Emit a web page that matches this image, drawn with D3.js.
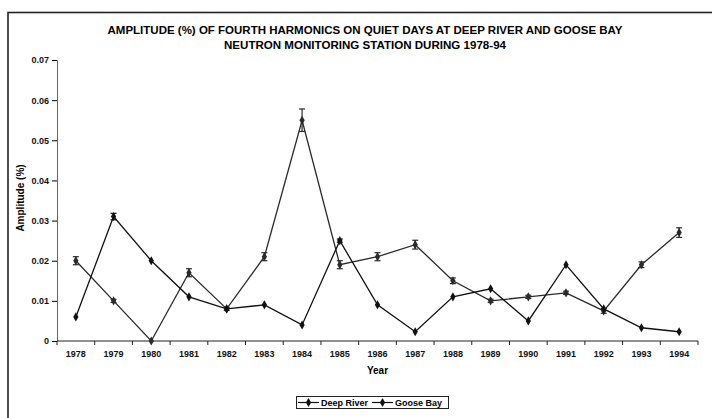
<!DOCTYPE html>
<html>
<head>
<meta charset="utf-8">
<script src="https://cdn.jsdelivr.net/npm/d3@7"></script>
<style>
  body { margin: 0; background: #fff; }
  svg { display: block; font-family: "Liberation Sans", Arial, sans-serif; }
</style>
</head>
<body>
<svg id="chart" width="712" height="418"></svg>
<script>
// amplitude (%) of fourth harmonics, quiet days
var years = ["1978","1979","1980","1981","1982","1983","1984","1985","1986",
             "1987","1988","1989","1990","1991","1992","1993","1994"];
var deepRiver = [0.006, 0.031, 0.020, 0.011, 0.008, 0.009, 0.004, 0.025, 0.009,
                 0.0023, 0.011, 0.013, 0.005, 0.019, 0.008, 0.0033, 0.0023];
var gooseBay = [0.020, 0.010, 0.000, 0.017, 0.008, 0.021, 0.055, 0.019, 0.021,
                0.024, 0.015, 0.010, 0.011, 0.012, 0.0075, 0.019, 0.027];
var gooseErr = [0.001, 0.0004, 0, 0.001, 0.0004, 0.001, 0.0028, 0.001, 0.001,
                0.0011, 0.0007, 0.0004, 0.0004, 0.0004, 0.0006, 0.0007, 0.0012];
var deepErr = [0, 0.0008, 0, 0, 0, 0, 0, 0.0004, 0, 0, 0, 0, 0, 0, 0, 0, 0];
var yTicks = [0, 0.01, 0.02, 0.03, 0.04, 0.05, 0.06, 0.07];
var seriesNames = ["Deep River", "Goose Bay"];
var titleLines = ["AMPLITUDE (%) OF FOURTH HARMONICS ON QUIET DAYS AT DEEP RIVER AND GOOSE BAY",
                  "NEUTRON MONITORING STATION DURING 1978-94"];

var svg = d3.select("#chart");
var margin = {left: 57, right: 14, top: 60, bottom: 77};
var width = 712 - margin.left - margin.right,
    height = 418 - margin.top - margin.bottom;

// frame of the scanned chart (only left and top edges are visible)
svg.append("rect")
    .attr("x", 8).attr("y", 12.5)
    .attr("width", 760).attr("height", 460)
    .attr("fill", "none").attr("stroke", "#222").attr("stroke-width", 1.6);

svg.selectAll("text.title")
  .data(titleLines)
  .enter().append("text")
    .attr("class", "title")
    .attr("x", 365)
    .attr("y", function(d, i) { return 34 + i * 14.5; })
    .attr("text-anchor", "middle")
    .attr("font-size", 11).attr("font-weight", "bold")
    .attr("textLength", function(d, i) { return i == 0 ? 515 : 282; })
    .attr("lengthAdjust", "spacingAndGlyphs")
    .text(function(d) { return d; });

var g = svg.append("g").attr("transform", "translate(" + margin.left + "," + margin.top + ")");

var x = d3.scaleBand().domain(years).range([0, width]);
var y = d3.scaleLinear().domain([0, 0.07]).range([height, 0]);

// y axis
var yAxis = g.append("g")
    .call(d3.axisLeft(y).tickValues(yTicks).tickSize(5).tickPadding(3)
      .tickFormat(function(d) { return d === 0 ? "0" : d3.format(".2f")(d); }));
yAxis.select(".domain").attr("stroke", "#666");
yAxis.selectAll("text").attr("font-size", 9).attr("font-weight", "bold")
    .attr("font-family", "Liberation Sans, Arial, sans-serif").attr("fill", "#111");

// x axis, ticks between categories
var xAxis = g.append("g").attr("transform", "translate(0," + height + ")");
xAxis.append("line")
    .attr("x1", 0).attr("x2", width)
    .attr("stroke", "#222").attr("stroke-width", 1);
xAxis.selectAll("line.tick")
  .data(years.concat(["end"]))
  .enter().append("line")
    .attr("class", "tick")
    .attr("x1", function(d, i) { return i * x.step(); })
    .attr("x2", function(d, i) { return i * x.step(); })
    .attr("y1", 0).attr("y2", 4)
    .attr("stroke", "#222");
xAxis.selectAll("text")
  .data(years)
  .enter().append("text")
    .attr("x", function(d) { return x(d) + x.bandwidth() / 2; })
    .attr("y", 16)
    .attr("text-anchor", "middle")
    .attr("font-size", 9).attr("font-weight", "bold").attr("fill", "#111")
    .text(function(d) { return d; });

// axis titles
g.append("text")
    .attr("x", width / 2).attr("y", height + 33)
    .attr("text-anchor", "middle")
    .attr("font-size", 10).attr("font-weight", "bold")
    .text("Year");
svg.append("text")
    .attr("transform", "translate(24,198) rotate(-90)")
    .attr("text-anchor", "middle")
    .attr("font-size", 10).attr("font-weight", "bold")
    .text("Amplitude (%)");

var diamond = d3.symbol().type(d3.symbolDiamond).size(24);
var px = function(d) { return x(d.year) + x.bandwidth() / 2; };
var line = d3.line().x(px).y(function(d) { return y(d.v); });

function drawSeries(vals, errs, color) {
  var pts = vals.map(function(v, i) { return {year: years[i], v: v, e: errs[i]}; });
  var s = g.append("g");
  s.append("path")
      .datum(pts)
      .attr("d", line)
      .attr("fill", "none").attr("stroke", color).attr("stroke-width", 1.3);
  var eb = s.selectAll("g.err")
    .data(pts.filter(function(d) { return d.e > 0; }))
    .enter().append("g").attr("class", "err");
  eb.append("line")
      .attr("x1", px).attr("x2", px)
      .attr("y1", function(d) { return y(d.v + d.e); })
      .attr("y2", function(d) { return y(d.v - d.e); })
      .attr("stroke", color).attr("stroke-width", 1.2);
  [1, -1].forEach(function(sg) {
    eb.append("line")
        .attr("x1", function(d) { return px(d) - 3; })
        .attr("x2", function(d) { return px(d) + 3; })
        .attr("y1", function(d) { return y(d.v + sg * d.e); })
        .attr("y2", function(d) { return y(d.v + sg * d.e); })
        .attr("stroke", color).attr("stroke-width", 1.2);
  });
  s.selectAll("path.pt")
    .data(pts)
    .enter().append("path")
      .attr("class", "pt")
      .attr("d", diamond)
      .attr("transform", function(d) { return "translate(" + px(d) + "," + y(d.v) + ")"; })
      .attr("fill", color);
}

drawSeries(gooseBay, gooseErr, "#2a2a2a");
drawSeries(deepRiver, deepErr, "#111");

// legend
var lg = svg.append("g");
lg.append("rect")
    .attr("x", 296.5).attr("y", 396.5)
    .attr("width", 152).attr("height", 12)
    .attr("fill", "#fff").attr("stroke", "#222");
var lx = [298, 372];
seriesNames.forEach(function(name, i) {
  lg.append("line")
      .attr("x1", lx[i]).attr("x2", lx[i] + 21)
      .attr("y1", 402.5).attr("y2", 402.5)
      .attr("stroke", "#111").attr("stroke-width", 1.2);
  lg.append("path")
      .attr("d", diamond)
      .attr("transform", "translate(" + (lx[i] + 10.5) + ",402.5)")
      .attr("fill", "#111");
  lg.append("text")
      .attr("x", lx[i] + 23).attr("y", 405.8)
      .attr("font-size", 9).attr("font-weight", "bold")
      .text(name);
});
</script>
</body>
</html>
